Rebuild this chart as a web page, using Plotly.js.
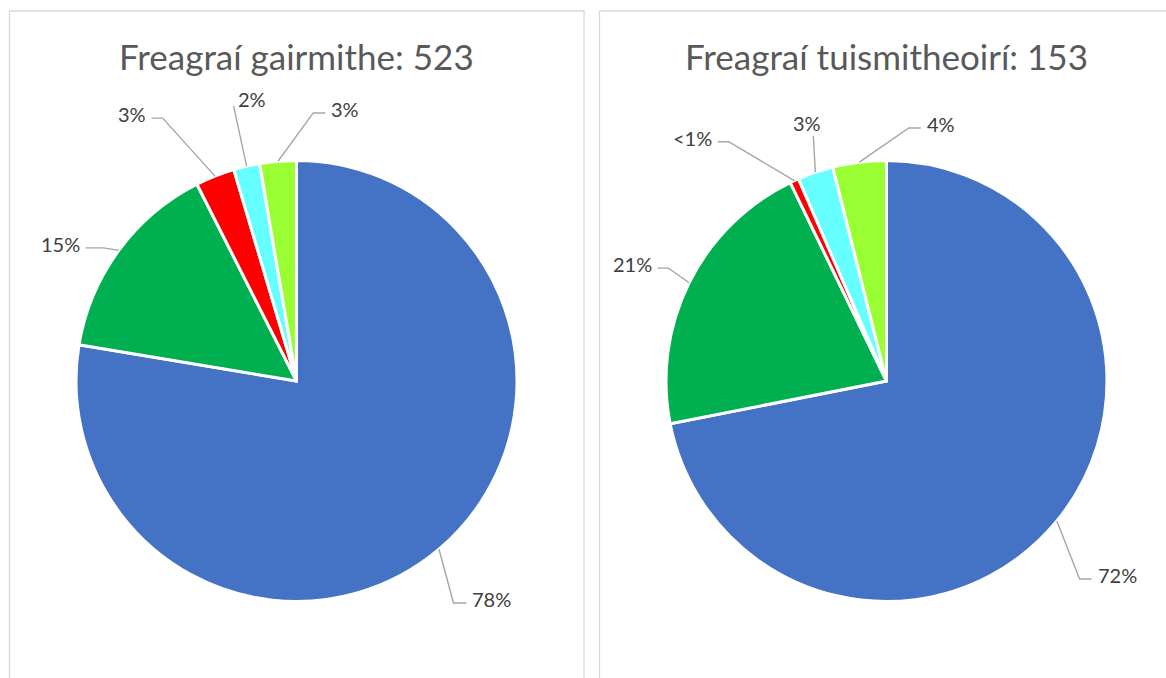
<!DOCTYPE html>
<html>
<head>
<meta charset="utf-8">
<script src="https://cdn.plot.ly/plotly-3.0.1.min.js"></script>
<style>
  html, body { margin: 0; padding: 0; background: #ffffff; }
  #chart { width: 1166px; height: 678px; }
</style>
</head>
<body>
<div id="chart"></div>
<script>
// ---- data ----
const sliceNames = ['Catagóir 1', 'Catagóir 2', 'Catagóir 3', 'Catagóir 4', 'Catagóir 5'];
const sliceColors = ['#4472C4', '#00B050', '#FF0000', '#66FFFF', '#99FF33'];
const professionalValues = [406, 78, 15, 10, 14];   // total 523
const parentValues = [110, 32, 1, 4, 6];            // total 153
const professionalTitle = 'Freagraí gairmithe';
const parentTitle = 'Freagraí tuismitheoirí';

// ---- layout config (pixels) ----
const W = 1166, H = 678;
const pieGeom = [
  { cx: 296.5, cy: 381, r: 220.5, panel: [9.5, 584, 11] },
  { cx: 886.5, cy: 381, r: 220.5, panel: [599.5, 1172, 11] }
];
// label placement per slice: [angle nudge (deg), elbow radius factor, tail px, dx, dy]
const labelPlacement = [
  [[5.0, 1.233, 13], [-1.7, 1.063, -18], [-5.3, 1.338, -11], [0.2, 1.28, 0, 18, -8], [8.4, 1.218, 12]],
  [[6.3, 1.254, 12], [0.9, 1.113, -11], [-8.7, 1.30, -11], [2.2, 1.16, 0, -6, -14], [12.1, 1.152, 12]]
];

const px = x => x / W;
const py = y => 1 - y / H;

const traces = [];
const annotations = [];
const shapes = [];

function pctText(v, total) {
  const p = v / total * 100;
  return p < 1 ? '<1%' : Math.round(p) + '%';
}

[[professionalValues, professionalTitle], [parentValues, parentTitle]].forEach(([vals, title], k) => {
  const g = pieGeom[k];
  const total = vals.reduce((a, b) => a + b, 0);
  traces.push({
    type: 'pie',
    labels: sliceNames,
    values: vals,
    sort: false,
    direction: 'clockwise',
    rotation: 0,
    textinfo: 'none',
    hoverinfo: 'label+value+percent',
    marker: { colors: sliceColors, line: { color: '#ffffff', width: 3 } },
    domain: { x: [px(g.cx - g.r), px(g.cx + g.r)], y: [py(g.cy + g.r), py(g.cy - g.r)] },
    showlegend: false
  });
  // title
  annotations.push({
    xref: 'paper', yref: 'paper', x: px(g.cx), y: py(56),
    xanchor: 'center', yanchor: 'middle', showarrow: false,
    text: title + ': ' + total,
    font: { family: 'Lato, sans-serif', size: 35, color: '#595959' }
  });
  // panel border
  shapes.push({
    type: 'rect', xref: 'paper', yref: 'paper', layer: 'below',
    x0: px(g.panel[0]), x1: px(g.panel[1]), y0: -0.05, y1: py(g.panel[2]),
    line: { color: '#D9D9D9', width: 1.3 }, fillcolor: 'rgba(0,0,0,0)'
  });
  // labels with leader lines
  let cum = 0;
  vals.forEach((v, i) => {
    const mid = (cum + v / 2) / total * 2 * Math.PI;
    cum += v;
    const pl = labelPlacement[k][i];
    const sx = g.cx + g.r * Math.sin(mid), sy = g.cy - g.r * Math.cos(mid);
    const ea = mid + pl[0] * Math.PI / 180;
    const ex = g.cx + g.r * pl[1] * Math.sin(ea), ey = g.cy - g.r * pl[1] * Math.cos(ea);
    const tail = pl[2];
    const tx = ex + tail;
    shapes.push({
      type: 'path', xref: 'paper', yref: 'paper',
      path: `M ${px(sx)},${py(sy)} L ${px(ex)},${py(ey)} L ${px(tx)},${py(ey)}`,
      line: { color: '#A6A6A6', width: 1.4 }
    });
    let ann;
    if (tail > 0) {
      ann = { x: px(tx + 4), y: py(ey - 4), xanchor: 'left' };
    } else if (tail < 0) {
      ann = { x: px(tx - 4), y: py(ey - 4), xanchor: 'right' };
    } else {
      ann = { x: px(ex + pl[3]), y: py(ey + pl[4] + 1.5), xanchor: 'center' };
    }
    annotations.push(Object.assign(ann, {
      xref: 'paper', yref: 'paper', yanchor: 'middle', showarrow: false,
      text: pctText(v, total),
      font: { family: 'Lato, sans-serif', size: 20, color: '#404040' }
    }));
  });
});

const layout = {
  width: W, height: H,
  margin: { l: 0, r: 0, t: 0, b: 0 },
  paper_bgcolor: '#ffffff',
  plot_bgcolor: '#ffffff',
  showlegend: false,
  annotations: annotations,
  shapes: shapes
};

Plotly.newPlot('chart', traces, layout, { displayModeBar: false, staticPlot: true });
</script>
</body>
</html>
